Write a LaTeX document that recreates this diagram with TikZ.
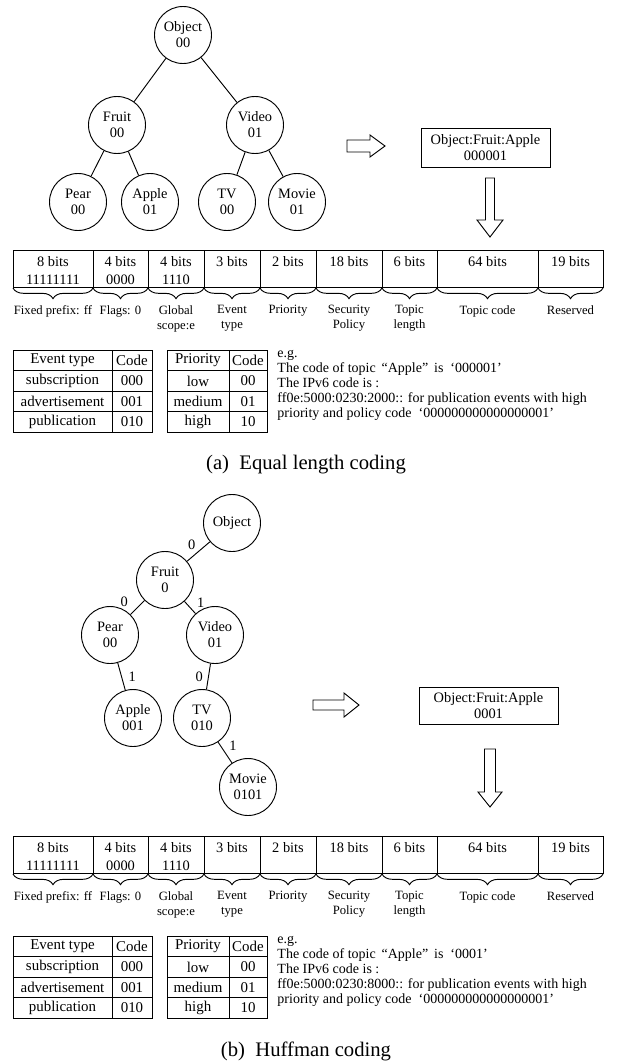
\documentclass[tikz,border=0pt]{standalone}
\usepackage{fontspec}
\setmainfont{Liberation Serif}
\usetikzlibrary{positioning,decorations.pathreplacing}

\begin{document}
\begin{tikzpicture}[
  x=0.75pt,y=-0.75pt,line width=0.7pt,
  every node/.style={inner sep=0pt},
  tn/.style={draw,circle,minimum size=42.75pt,align=center,font=\fontsize{10.8}{12}\selectfont},
  el/.style={font=\fontsize{10.8}{12}\selectfont},
  bx/.style={draw,align=center,font=\fontsize{10.8}{12}\selectfont},
  bt/.style={font=\fontsize{10.8}{12}\selectfont},
  lb/.style={align=center,font=\fontsize{9.5}{11.25}\selectfont},
  tc/.style={font=\fontsize{11.2}{12}\selectfont},
  eg/.style={align=left,anchor=north west,font=\fontsize{10.5}{11.25}\selectfont},
  capt/.style={font=\fontsize{15.5}{17}\selectfont},
  hollow/.style={draw,fill=white},
  brc/.style={decorate,decoration={brace,mirror,amplitude=8pt}}
]
\useasboundingbox (0,0) rectangle (619,1063);

% ---- (a) arvore de codigo igual
\node[tn] (oa) at (183,35)  {Object\\00};
\node[tn] (fa) at (117,125) {Fruit\\00};
\node[tn] (va) at (255,125) {Video\\01};
\node[tn] (pa) at (78,202)  {Pear\\00};
\node[tn] (aa) at (150,202) {Apple\\01};
\node[tn] (ta) at (227,202) {TV\\00};
\node[tn] (ma) at (297,202) {Movie\\01};
\draw (oa) -- (fa);
\draw (oa) -- (va);
\draw (fa) -- (pa);
\draw (fa) -- (aa);
\draw (va) -- (ta);
\draw (va) -- (ma);

\draw[hollow] (347,140) -- (370,140) -- (370,135) -- (385,146) -- (370,157) -- (370,152) -- (347,152) -- cycle;
\node[bx,minimum width=96.75pt,minimum height=29.25pt] (ka) at (485.5,147.5) {Object:Fruit:Apple\\000001};
\draw[hollow] (485.5,178) -- (494.5,178) -- (494.5,220) -- (503,220) -- (490,237) -- (477,220) -- (485.5,220) -- cycle;

% ---- (a) campos do endereco
\foreach \xa/\xb/\ta/\tb/\tl [count=\i] in {
  13/93/8 bits/11111111/Fixed prefix: ff,
  93/148/4 bits/0000/Flags: 0,
  148/204/4 bits/1110/{Global\\scope:e},
  204/260/3 bits//{Event\\type},
  260/316/2 bits//Priority,
  316/382/18 bits//{Security\\Policy},
  382/437/6 bits//{Topic\\length},
  437/538/64 bits//Topic code,
  538/603/19 bits//Reserved}{
  \draw (\xa,250) rectangle (\xb,287);
  \node[bt] (ba\i) at ({(\xa+\xb)/2},262) {\ta};
  \node[bt] (ca\i) at ({(\xa+\xb)/2},280) {\tb};
  \draw[brc] (\xa,288) -- (\xb,288);
  \node[lb,anchor=north] (la\i) at ({(\xa+\xb)/2},305) {\tl};
}

% ---- (a) tabelas
\foreach \ev/\ec/\pv/\pc [count=\i from 0] in {
  Event type/Code/Priority/Code,
  subscription/000/low/00,
  advertisement/001/medium/01,
  publication/010/high/10}{
  \draw (13,{350+20.5*\i}) rectangle (112,{370.5+20.5*\i});
  \draw (112,{350+20.5*\i}) rectangle (152,{370.5+20.5*\i});
  \draw (167,{350+20.5*\i}) rectangle (229,{370.5+20.5*\i});
  \draw (229,{350+20.5*\i}) rectangle (267,{370.5+20.5*\i});
  \node[tc] (ea\i) at (62.5,{360.5+20.5*\i}) {\ev};
  \node[tc] (da\i) at (132,{360.5+20.5*\i}) {\ec};
  \node[tc] (ra\i) at (198,{360.5+20.5*\i}) {\pv};
  \node[tc] (qa\i) at (248,{360.5+20.5*\i}) {\pc};
}
\node[eg] (ga) at (277,350) {e.g.\\
  The code of topic \,“Apple”\, is \ ‘000001’\\
  The IPv6 code is :\\
  ff0e:5000:0230:2000:: for publication events with high\\
  priority and policy code \ ‘000000000000000001’};
\node[capt] (cpa) at (306,465) {(a)\ \ Equal length coding};

% ---- (b) arvore de Huffman
\node[tn] (ob) at (232,523) {Object};
\node[tn] (fb) at (165,580) {Fruit\\0};
\node[tn] (pb) at (110,635) {Pear\\00};
\node[tn] (vb) at (215,635) {Video\\01};
\node[tn] (ab) at (133,718) {Apple\\001};
\node[tn] (tb) at (202,718) {TV\\010};
\node[tn] (mb) at (248,787) {Movie\\0101};
\draw (ob) -- node[el,above left=1pt and 2pt] {0} (fb);
\draw (fb) -- node[el,above left=0pt and 7pt] {0} (pb);
\draw (fb) -- node[el,above right=0pt and 5pt] {1} (vb);
\draw (pb) -- node[el,right=5pt] {1} (ab);
\draw (vb) -- node[el,left=4pt] {0} (tb);
\draw (tb) -- node[el,above right=1pt and 3pt] {1} (mb);

\draw[hollow] (313,700) -- (344,700) -- (344,693) -- (359,705) -- (344,717) -- (344,710) -- (313,710) -- cycle;
\node[bx,minimum width=104.25pt,minimum height=27.75pt] (kb) at (488.5,705.5) {Object:Fruit:Apple\\0001};
\draw[hollow] (484.5,749) -- (495.5,749) -- (495.5,792) -- (502,792) -- (490,807) -- (478,792) -- (484.5,792) -- cycle;

\begin{scope}[shift={(0,586)}]
% ---- (b) campos do endereco
\foreach \xa/\xb/\ta/\tb/\tl [count=\i] in {
  13/93/8 bits/11111111/Fixed prefix: ff,
  93/148/4 bits/0000/Flags: 0,
  148/204/4 bits/1110/{Global\\scope:e},
  204/260/3 bits//{Event\\type},
  260/316/2 bits//Priority,
  316/382/18 bits//{Security\\Policy},
  382/437/6 bits//{Topic\\length},
  437/538/64 bits//Topic code,
  538/603/19 bits//Reserved}{
  \draw (\xa,250) rectangle (\xb,287);
  \node[bt] (bb\i) at ({(\xa+\xb)/2},262) {\ta};
  \node[bt] (cb\i) at ({(\xa+\xb)/2},280) {\tb};
  \draw[brc] (\xa,288) -- (\xb,288);
  \node[lb,anchor=north] (lb\i) at ({(\xa+\xb)/2},305) {\tl};
}

% ---- (b) tabelas
\foreach \ev/\ec/\pv/\pc [count=\i from 0] in {
  Event type/Code/Priority/Code,
  subscription/000/low/00,
  advertisement/001/medium/01,
  publication/010/high/10}{
  \draw (13,{350+20.5*\i}) rectangle (112,{370.5+20.5*\i});
  \draw (112,{350+20.5*\i}) rectangle (152,{370.5+20.5*\i});
  \draw (167,{350+20.5*\i}) rectangle (229,{370.5+20.5*\i});
  \draw (229,{350+20.5*\i}) rectangle (267,{370.5+20.5*\i});
  \node[tc] (eb\i) at (62.5,{360.5+20.5*\i}) {\ev};
  \node[tc] (db\i) at (132,{360.5+20.5*\i}) {\ec};
  \node[tc] (rb\i) at (198,{360.5+20.5*\i}) {\pv};
  \node[tc] (qb\i) at (248,{360.5+20.5*\i}) {\pc};
}
\node[eg] (gb) at (277,350) {e.g.\\
  The code of topic \,“Apple”\, is \ ‘0001’\\
  The IPv6 code is :\\
  ff0e:5000:0230:8000:: for publication events with high\\
  priority and policy code \ ‘000000000000000001’};
\node[capt] (cpb) at (306,465) {(b)\ \ Huffman coding};
\end{scope}
\end{tikzpicture}
\end{document}
